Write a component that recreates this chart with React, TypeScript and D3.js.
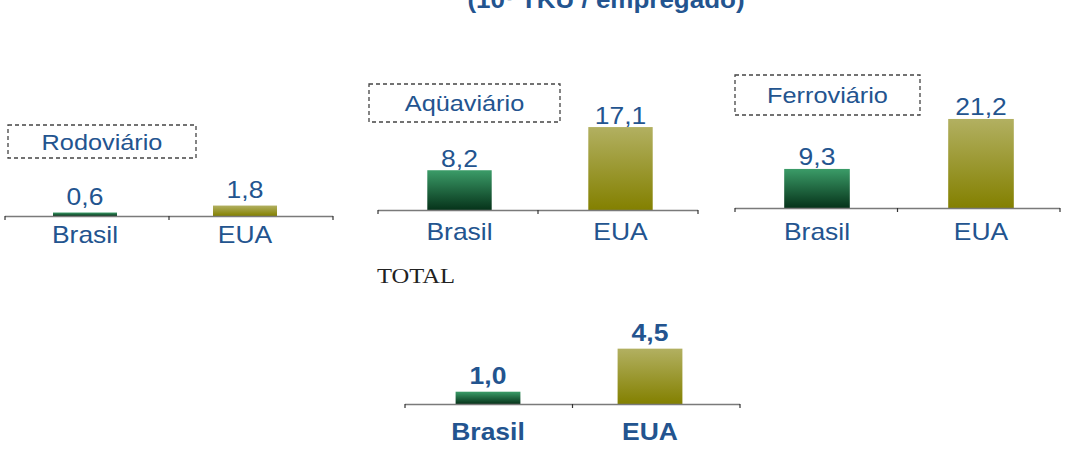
import React from "react";
import * as d3 from "d3";

const categories = ["Brasil", "EUA"];
const panelNames = ["Rodoviário", "Aqüaviário", "Ferroviário", "TOTAL"];
const brasilValues = [0.6, 8.2, 9.3, 1.0];
const euaValues = [1.8, 17.1, 21.2, 4.5];
const titleText = "(10³ TKU / empregado)";

// layout (positions only)
const layout = [
  { x0: 5, x1: 333, bx0: 5, bx1: 325, axisY: 216, ppu: 5.8, valOff: 8, catOff: 27, box: [8, 125, 188, 33], bold: false },
  { x0: 378, x1: 698, bx0: 379, bx1: 701, axisY: 210, ppu: 4.85, valOff: 3, catOff: 30, box: [369, 84, 191, 38], bold: false },
  { x0: 735, x1: 1060, bx0: 735, bx1: 1063, axisY: 208, ppu: 4.2, valOff: 4, catOff: 32, box: [735, 75, 185, 40], bold: false },
  { x0: 405, x1: 740, bx0: 407, bx1: 731, axisY: 404, ppu: 12.3, valOff: 8, catOff: 36, box: null, bold: true },
];

const BLUE = "#23548f";
const SX = 1.15;
const fmt = (v: number) => d3.format(".1f")(v).replace(".", ",");

function T(props: { x: number; y: number; children: any; anchor?: string; size: number; bold?: boolean; fill?: string; family?: string; sx?: number }) {
  const { x, y, children, anchor = "middle", size, bold, fill = BLUE, family, sx = SX } = props;
  return (
    <g transform={`translate(${x},${y}) scale(${sx},1)`}>
      <text x={0} y={0} textAnchor={anchor} fontSize={size} fontWeight={bold ? "bold" : "normal"} fill={fill}
        fontFamily={family}>{children}</text>
    </g>
  );
}

export default function App() {
  const W = 1070, H = 461;
  return (
    <svg width={W} height={H} style={{ position: "absolute", left: 0, top: 0, background: "#fff" }}
      fontFamily="Liberation Sans, Arial, sans-serif">
      <defs>
        <linearGradient id="gGreen" x1="0" y1="0" x2="0" y2="1">
          <stop offset="0" stopColor="#3b9c68" />
          <stop offset="1" stopColor="#06331a" />
        </linearGradient>
        <linearGradient id="gOlive" x1="0" y1="0" x2="0" y2="1">
          <stop offset="0" stopColor="#b2b061" />
          <stop offset="1" stopColor="#838000" />
        </linearGradient>
      </defs>
      <T x={606} y={8} size={23} bold sx={1.13}>{titleText}</T>
      {layout.map((L, i) => {
        const x = d3.scaleBand<string>().domain(categories).range([L.bx0, L.bx1]).paddingInner(0.6).paddingOuter(0.3);
        const maxV = Math.max(brasilValues[i], euaValues[i]);
        const y = d3.scaleLinear().domain([0, maxV]).range([L.axisY, L.axisY - maxV * L.ppu]);
        const vals = [brasilValues[i], euaValues[i]];
        const fills = ["url(#gGreen)", "url(#gOlive)"];
        const mid = (L.x0 + L.x1) / 2;
        return (
          <g key={i}>
            {L.box ? (
              <g>
                <rect x={L.box[0]} y={L.box[1]} width={L.box[2]} height={L.box[3]} fill="none"
                  stroke="#444" strokeWidth={1.3} strokeDasharray="4,3" />
                <T x={L.box[0] + L.box[2] / 2} y={L.box[1] + L.box[3] / 2 + 8} size={22}>{panelNames[i]}</T>
              </g>
            ) : (
              <T x={377} y={283} anchor="start" family="Liberation Serif, Times New Roman, serif" size={21} fill="#222" sx={1.17}>{panelNames[i]}</T>
            )}
            {categories.map((c, j) => (
              <g key={c}>
                <rect x={x(c)} y={y(vals[j])} width={x.bandwidth()} height={L.axisY - y(vals[j])} fill={fills[j]} />
                <T x={(x(c) as number) + x.bandwidth() / 2} y={y(vals[j]) - L.valOff} size={23} bold={L.bold}>{fmt(vals[j])}</T>
                <T x={(x(c) as number) + x.bandwidth() / 2} y={L.axisY + L.catOff} size={23} bold={L.bold}>{c}</T>
              </g>
            ))}
            <line x1={L.x0} x2={L.x1} y1={L.axisY + 0.5} y2={L.axisY + 0.5} stroke="#7a7a7a" strokeWidth={1.6} />
            {[L.x0, mid, L.x1].map((t, k) => (
              <line key={k} x1={t} x2={t} y1={L.axisY} y2={L.axisY + 4} stroke="#333" strokeWidth={1.2} />
            ))}
          </g>
        );
      })}
    </svg>
  );
}
